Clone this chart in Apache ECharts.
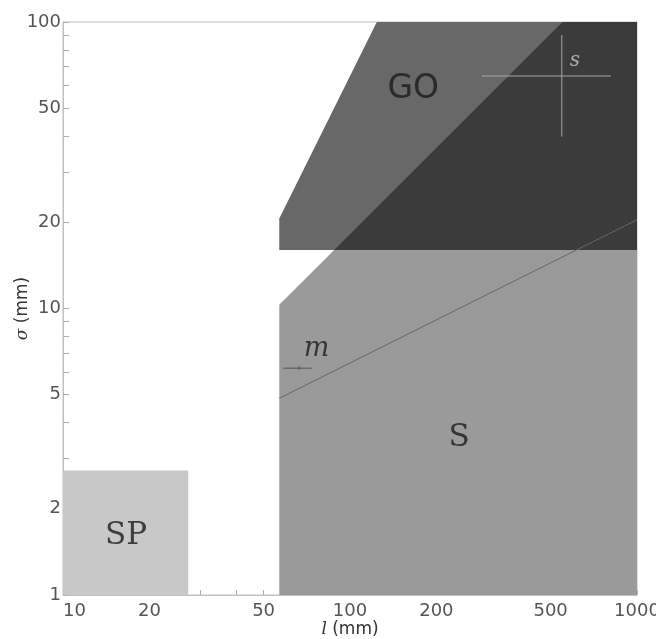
<!DOCTYPE html>
<html>
<head>
<meta charset="utf-8">
<script src="https://cdn.jsdelivr.net/npm/echarts@6/dist/echarts.min.js"></script>
<style>
  html, body { margin: 0; padding: 0; background: #fff; }
  #chart { width: 656px; height: 639px; }
</style>
</head>
<body>
<div id="chart"></div>
<script>
// tick values (log axes)
const xLabelValues = [10, 20, 50, 100, 200, 500, 1000];
const yLabelValues = [1, 2, 5, 10, 20, 50, 100];
const xTickValues = [10, 20, 30, 40, 50, 60, 70, 80, 90, 100, 200, 300, 400, 500, 600, 700, 800, 900, 1000];
const yTickValues = [1, 2, 3, 4, 5, 6, 7, 8, 9, 10, 20, 30, 40, 50, 60, 70, 80, 90, 100];

// regions, vertices as [l, sigma]
const spRegion = [[10, 1], [10, 2.72], [27.3, 2.72], [27.3, 1]];
const sRegion = [[56.7, 1], [56.7, 10.3], [88.1, 16], [1000, 16], [1000, 1]];
const goRegion = [[56.7, 16], [56.7, 20.6], [124, 100], [1000, 100], [1000, 16]];
const overlapRegion = [[88.1, 16], [550, 100], [1000, 100], [1000, 16]];

// sigma ~ sqrt(l) line
const trendLine = [[56.7, 4.86], [1000, 20.4]];

// crosshair markers: [l, sigma, lLow, lHigh, sigmaLow, sigmaHigh]
const markerNames = ['m', 's'];
const markerValues = [
  [66.5, 6.19, 58.6, 73.5, 6.1, 6.3],
  [547, 64.8, 288, 811, 39.8, 90.1]
];

// region / marker labels
const labelNames = ['GO', 'S', 'SP', 'm', 's'];
const labelPositions = [[166, 58], [240, 3.53], [16.6, 1.61], [76.5, 7.2], [608, 73]];

const myChart = echarts.init(document.getElementById('chart'));

function polygonSeries(verts, fill, z) {
  return {
    type: 'custom',
    z,
    silent: true,
    data: verts,
    renderItem: (params, api) => {
      if (params.dataIndex !== 0) return;
      const pts = verts.map(p => api.coord(p));
      return { type: 'polygon', shape: { points: pts }, style: { fill } };
    }
  };
}

const labelStyles = {
  GO: { fontFamily: 'DejaVu Sans', fontSize: 33, color: '#1a1a1a' },
  S: { fontFamily: 'DejaVu Serif', fontSize: 31, color: '#1a1a1a' },
  SP: { fontFamily: 'DejaVu Serif', fontSize: 31, color: '#1a1a1a' },
  m: { fontFamily: 'DejaVu Serif', fontStyle: 'italic', fontSize: 27, color: '#1a1a1a' },
  s: { fontFamily: 'DejaVu Serif', fontStyle: 'italic', fontSize: 20, color: '#c8c8c8' }
};

const option = {
  animation: false,
  grid: {
    left: 63, right: 19, top: 22, bottom: 44,
    outerBoundsMode: 'none',
    containLabel: false,
    show: true, borderColor: '#c0c0c0', borderWidth: 1, backgroundColor: 'transparent'
  },
  xAxis: {
    type: 'log',
    logBase: 10,
    min: 10,
    max: 1000,
    name: '{i|l} (mm)',
    nameLocation: 'middle',
    nameGap: 26,
    nameMoveOverlap: false,
    nameTextStyle: {
      fontFamily: 'DejaVu Sans', fontSize: 17, color: '#333',
      rich: { i: { fontFamily: 'DejaVu Serif', fontStyle: 'italic', fontSize: 17, color: '#333' } }
    },
    splitLine: { show: false },
    axisLine: { lineStyle: { color: '#c0c0c0' } },
    axisTick: { inside: true, length: 5, customValues: xTickValues, lineStyle: { color: '#b0b0b0' } },
    axisLabel: {
      customValues: xLabelValues,
      fontFamily: 'DejaVu Sans', fontSize: 18, color: '#555', margin: 7,
      alignMinLabel: 'left',
      formatter: v => String(Math.round(v))
    }
  },
  yAxis: {
    type: 'log',
    logBase: 10,
    min: 1,
    max: 100,
    name: '{i|σ} (mm)',
    nameLocation: 'middle',
    nameGap: 32,
    nameMoveOverlap: false,
    nameTextStyle: {
      fontFamily: 'DejaVu Sans', fontSize: 17, color: '#333',
      rich: { i: { fontFamily: 'DejaVu Serif', fontStyle: 'italic', fontSize: 17, color: '#333' } }
    },
    splitLine: { show: false },
    axisLine: { lineStyle: { color: '#c0c0c0' } },
    axisTick: { inside: true, length: 6, customValues: yTickValues, lineStyle: { color: '#b0b0b0' } },
    axisLabel: {
      customValues: yLabelValues,
      fontFamily: 'DejaVu Sans', fontSize: 18, color: '#555', margin: 2,
      formatter: v => String(Math.round(v))
    }
  },
  series: [
    polygonSeries(spRegion, '#c8c8c8', 1),
    polygonSeries(sRegion, '#9a9a9a', 1),
    polygonSeries(goRegion, '#686868', 1),
    polygonSeries(overlapRegion, '#3b3b3b', 1),
    {
      type: 'line',
      z: 2,
      silent: true,
      data: trendLine,
      symbol: 'none',
      lineStyle: { color: '#666', width: 1 }
    },
    {
      type: 'custom',
      z: 3,
      silent: true,
      data: markerValues,
      renderItem: (params, api) => {
        const c = api.coord([api.value(0), api.value(1)]);
        const xl = api.coord([api.value(2), api.value(1)]);
        const xh = api.coord([api.value(3), api.value(1)]);
        const yl = api.coord([api.value(0), api.value(4)]);
        const yh = api.coord([api.value(0), api.value(5)]);
        const color = markerNames[params.dataIndex] === 's' ? '#a8a8a8' : '#555';
        return {
          type: 'group',
          children: [
            { type: 'line', shape: { x1: xl[0], y1: c[1], x2: xh[0], y2: c[1] }, style: { stroke: color, lineWidth: 1 } },
            { type: 'line', shape: { x1: c[0], y1: yl[1], x2: c[0], y2: yh[1] }, style: { stroke: color, lineWidth: 1 } }
          ]
        };
      }
    },
    {
      type: 'scatter',
      z: 4,
      silent: true,
      symbolSize: 0,
      data: labelNames.map((n, i) => ({
        name: n,
        value: labelPositions[i],
        label: Object.assign({ show: true, position: 'inside', formatter: '{b}' }, labelStyles[n])
      }))
    }
  ]
};

myChart.setOption(option);
</script>
</body>
</html>
